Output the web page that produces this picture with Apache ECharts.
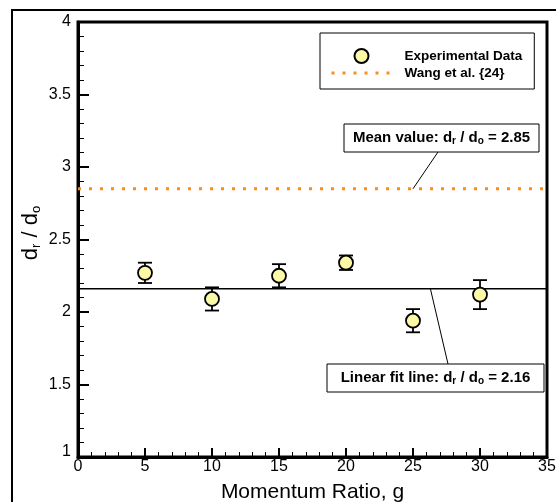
<!DOCTYPE html>
<html lang="en">
<head>
  <meta charset="UTF-8">
  <title>dr / do vs momentum ratio</title>
  <script src="https://cdn.jsdelivr.net/npm/echarts@6/dist/echarts.min.js"></script>
  <style>
    * { margin: 0; padding: 0; }
    body { background: #fff; }
    #chart { width: 556px; height: 502px; }
  </style>
</head>
<body>
  <div id="chart"></div>
  <script>
    // momentum ratio g and measured dr/do with error bar half widths
    var gValues = [5, 10, 15, 20, 25, 30];
    var ratioValues = [2.27, 2.09, 2.25, 2.34, 1.94, 2.12];
    var errValues = [0.07, 0.08, 0.08, 0.05, 0.08, 0.10];
    var meanValue = 2.85;   // Wang et al. {24}
    var fitValue = 2.16;    // linear fit
    var xRange = [0, 35];
    var yRange = [1, 4];

    var font = 'Liberation Sans, Arial, sans-serif';
    var orange = '#ff8c1a';
    var dotted = { color: orange, width: 3, type: [3, 8] };

    var points = gValues.map(function (g, i) { return [g, ratioValues[i]]; });
    var bars = gValues.map(function (g, i) { return [g, ratioValues[i], errValues[i]]; });

    var chart = echarts.init(document.getElementById('chart'));

    var option = {
      animation: false,
      backgroundColor: '#fff',
      grid: {
        left: 78, right: 9, top: 22, bottom: 45,
        outerBoundsMode: 'none',
        show: true, borderColor: '#000', borderWidth: 3
      },
      legend: {
        data: [
          'Experimental Data',
          { name: 'Wang et al. {24}', itemStyle: { opacity: 0 }, lineStyle: dotted }
        ],
        orient: 'vertical',
        left: 320, top: 33,
        padding: [15, 12, 9, 10],
        itemWidth: 60, itemHeight: 14, itemGap: 2,
        borderColor: '#000', borderWidth: 1,
        backgroundColor: '#fff',
        textStyle: { fontFamily: font, fontWeight: 'bold', fontSize: 13.5, color: '#000', padding: [0, 0, 0, 8] }
      },
      xAxis: {
        type: 'value', min: xRange[0], max: xRange[1], interval: 5,
        name: 'Momentum Ratio, g', nameLocation: 'middle', nameGap: 25,
        nameTextStyle: { fontFamily: font, fontSize: 21, color: '#000' },
        axisLine: { lineStyle: { color: '#000', width: 3 } },
        axisTick: { inside: true, length: 9, lineStyle: { color: '#000', width: 2 } },
        minorTick: { show: true, splitNumber: 5, length: 5, lineStyle: { color: '#000', width: 1 } },
        axisLabel: { fontFamily: font, fontSize: 16, color: '#000', margin: 2 },
        splitLine: { show: false }
      },
      yAxis: {
        type: 'value', min: yRange[0], max: yRange[1], interval: 0.5,
        axisLine: { lineStyle: { color: '#000', width: 3 } },
        axisTick: { inside: true, length: 11, lineStyle: { color: '#000', width: 2 } },
        minorTick: { show: true, splitNumber: 5, length: 6, lineStyle: { color: '#000', width: 1 } },
        axisLabel: {
          fontFamily: font, fontSize: 16, color: '#000', margin: 7,
          formatter: function (v) { return v === 1 ? '{lift|1}' : String(v); },
          rich: { lift: { fontFamily: font, fontSize: 16, color: '#000', padding: [0, 0, 10, 0] } }
        },
        splitLine: { show: false }
      },
      series: [
        {
          name: 'Wang et al. {24}',
          type: 'line',
          data: [[xRange[0], meanValue], [xRange[1], meanValue]],
          symbol: 'none',
          itemStyle: { color: orange },
          lineStyle: dotted,
          z: 2
        },
        {
          name: 'Linear fit',
          type: 'line',
          data: [[xRange[0], fitValue], [xRange[1], fitValue]],
          symbol: 'none',
          lineStyle: { color: '#000', width: 1.5 },
          z: 2
        },
        {
          name: 'errors',
          type: 'custom',
          data: bars,
          encode: { x: 0, y: 1 },
          renderItem: function (params, api) {
            var g = api.value(0), v = api.value(1), e = api.value(2);
            var top = api.coord([g, v + e]);
            var bot = api.coord([g, v - e]);
            var w = 7;
            var st = { stroke: '#000', lineWidth: 1.8 };
            return {
              type: 'group',
              children: [
                { type: 'line', shape: { x1: top[0], y1: top[1], x2: bot[0], y2: bot[1] }, style: st },
                { type: 'line', shape: { x1: top[0] - w, y1: top[1], x2: top[0] + w, y2: top[1] }, style: st },
                { type: 'line', shape: { x1: bot[0] - w, y1: bot[1], x2: bot[0] + w, y2: bot[1] }, style: st }
              ]
            };
          },
          z: 3
        },
        {
          name: 'Experimental Data',
          type: 'scatter',
          data: points,
          symbol: 'circle',
          symbolSize: 14,
          itemStyle: { color: '#fbf8a6', borderColor: '#000', borderWidth: 1.8, opacity: 1 },
          z: 4
        }
      ]
    };

    chart.setOption(option);

    // annotation boxes, leader lines and the y axis title
    var meanPt = chart.convertToPixel({ gridIndex: 0 }, [25, meanValue]);
    var fitPt = chart.convertToPixel({ gridIndex: 0 }, [26.3, fitValue]);
    var subRich = {
      s: { fontFamily: font, fontWeight: 'bold', fontSize: 10, fill: '#000', padding: [6, 0, 0, 0] }
    };

    chart.setOption({
      graphic: [
        {
          type: 'rect', z: -10, silent: true,
          shape: { x: 12, y: 10, width: 600, height: 600 },
          style: { fill: 'none', stroke: '#000', lineWidth: 2 }
        },
        {
          type: 'text', z: 52, x: 31, y: 233, rotation: Math.PI / 2,
          style: {
            text: 'd{s|r} / d{s|o}',
            rich: { s: { fontFamily: font, fontSize: 13, fill: '#000', padding: [10, 0, 0, 0] } },
            font: '22px ' + font, fill: '#000',
            align: 'center', verticalAlign: 'middle'
          }
        },
        {
          type: 'line', z: 50,
          shape: { x1: 438, y1: 152, x2: meanPt[0], y2: meanPt[1] },
          style: { stroke: '#000', lineWidth: 1 }
        },
        {
          type: 'line', z: 50,
          shape: { x1: fitPt[0], y1: fitPt[1], x2: 448, y2: 364 },
          style: { stroke: '#000', lineWidth: 1 }
        },
        {
          type: 'rect', z: 51,
          shape: { x: 344, y: 124, width: 195, height: 28 },
          style: { fill: '#fff', stroke: '#000', lineWidth: 1 }
        },
        {
          type: 'text', z: 52, x: 441.5, y: 138,
          style: {
            text: 'Mean value: d{s|r} / d{s|o} = 2.85',
            rich: subRich,
            font: 'bold 15px ' + font, fill: '#000',
            align: 'center', verticalAlign: 'middle'
          }
        },
        {
          type: 'rect', z: 51,
          shape: { x: 327, y: 364, width: 217, height: 28 },
          style: { fill: '#fff', stroke: '#000', lineWidth: 1 }
        },
        {
          type: 'text', z: 52, x: 435.5, y: 378,
          style: {
            text: 'Linear fit line: d{s|r} / d{s|o} = 2.16',
            rich: subRich,
            font: 'bold 15px ' + font, fill: '#000',
            align: 'center', verticalAlign: 'middle'
          }
        }
      ]
    });
  </script>
</body>
</html>
